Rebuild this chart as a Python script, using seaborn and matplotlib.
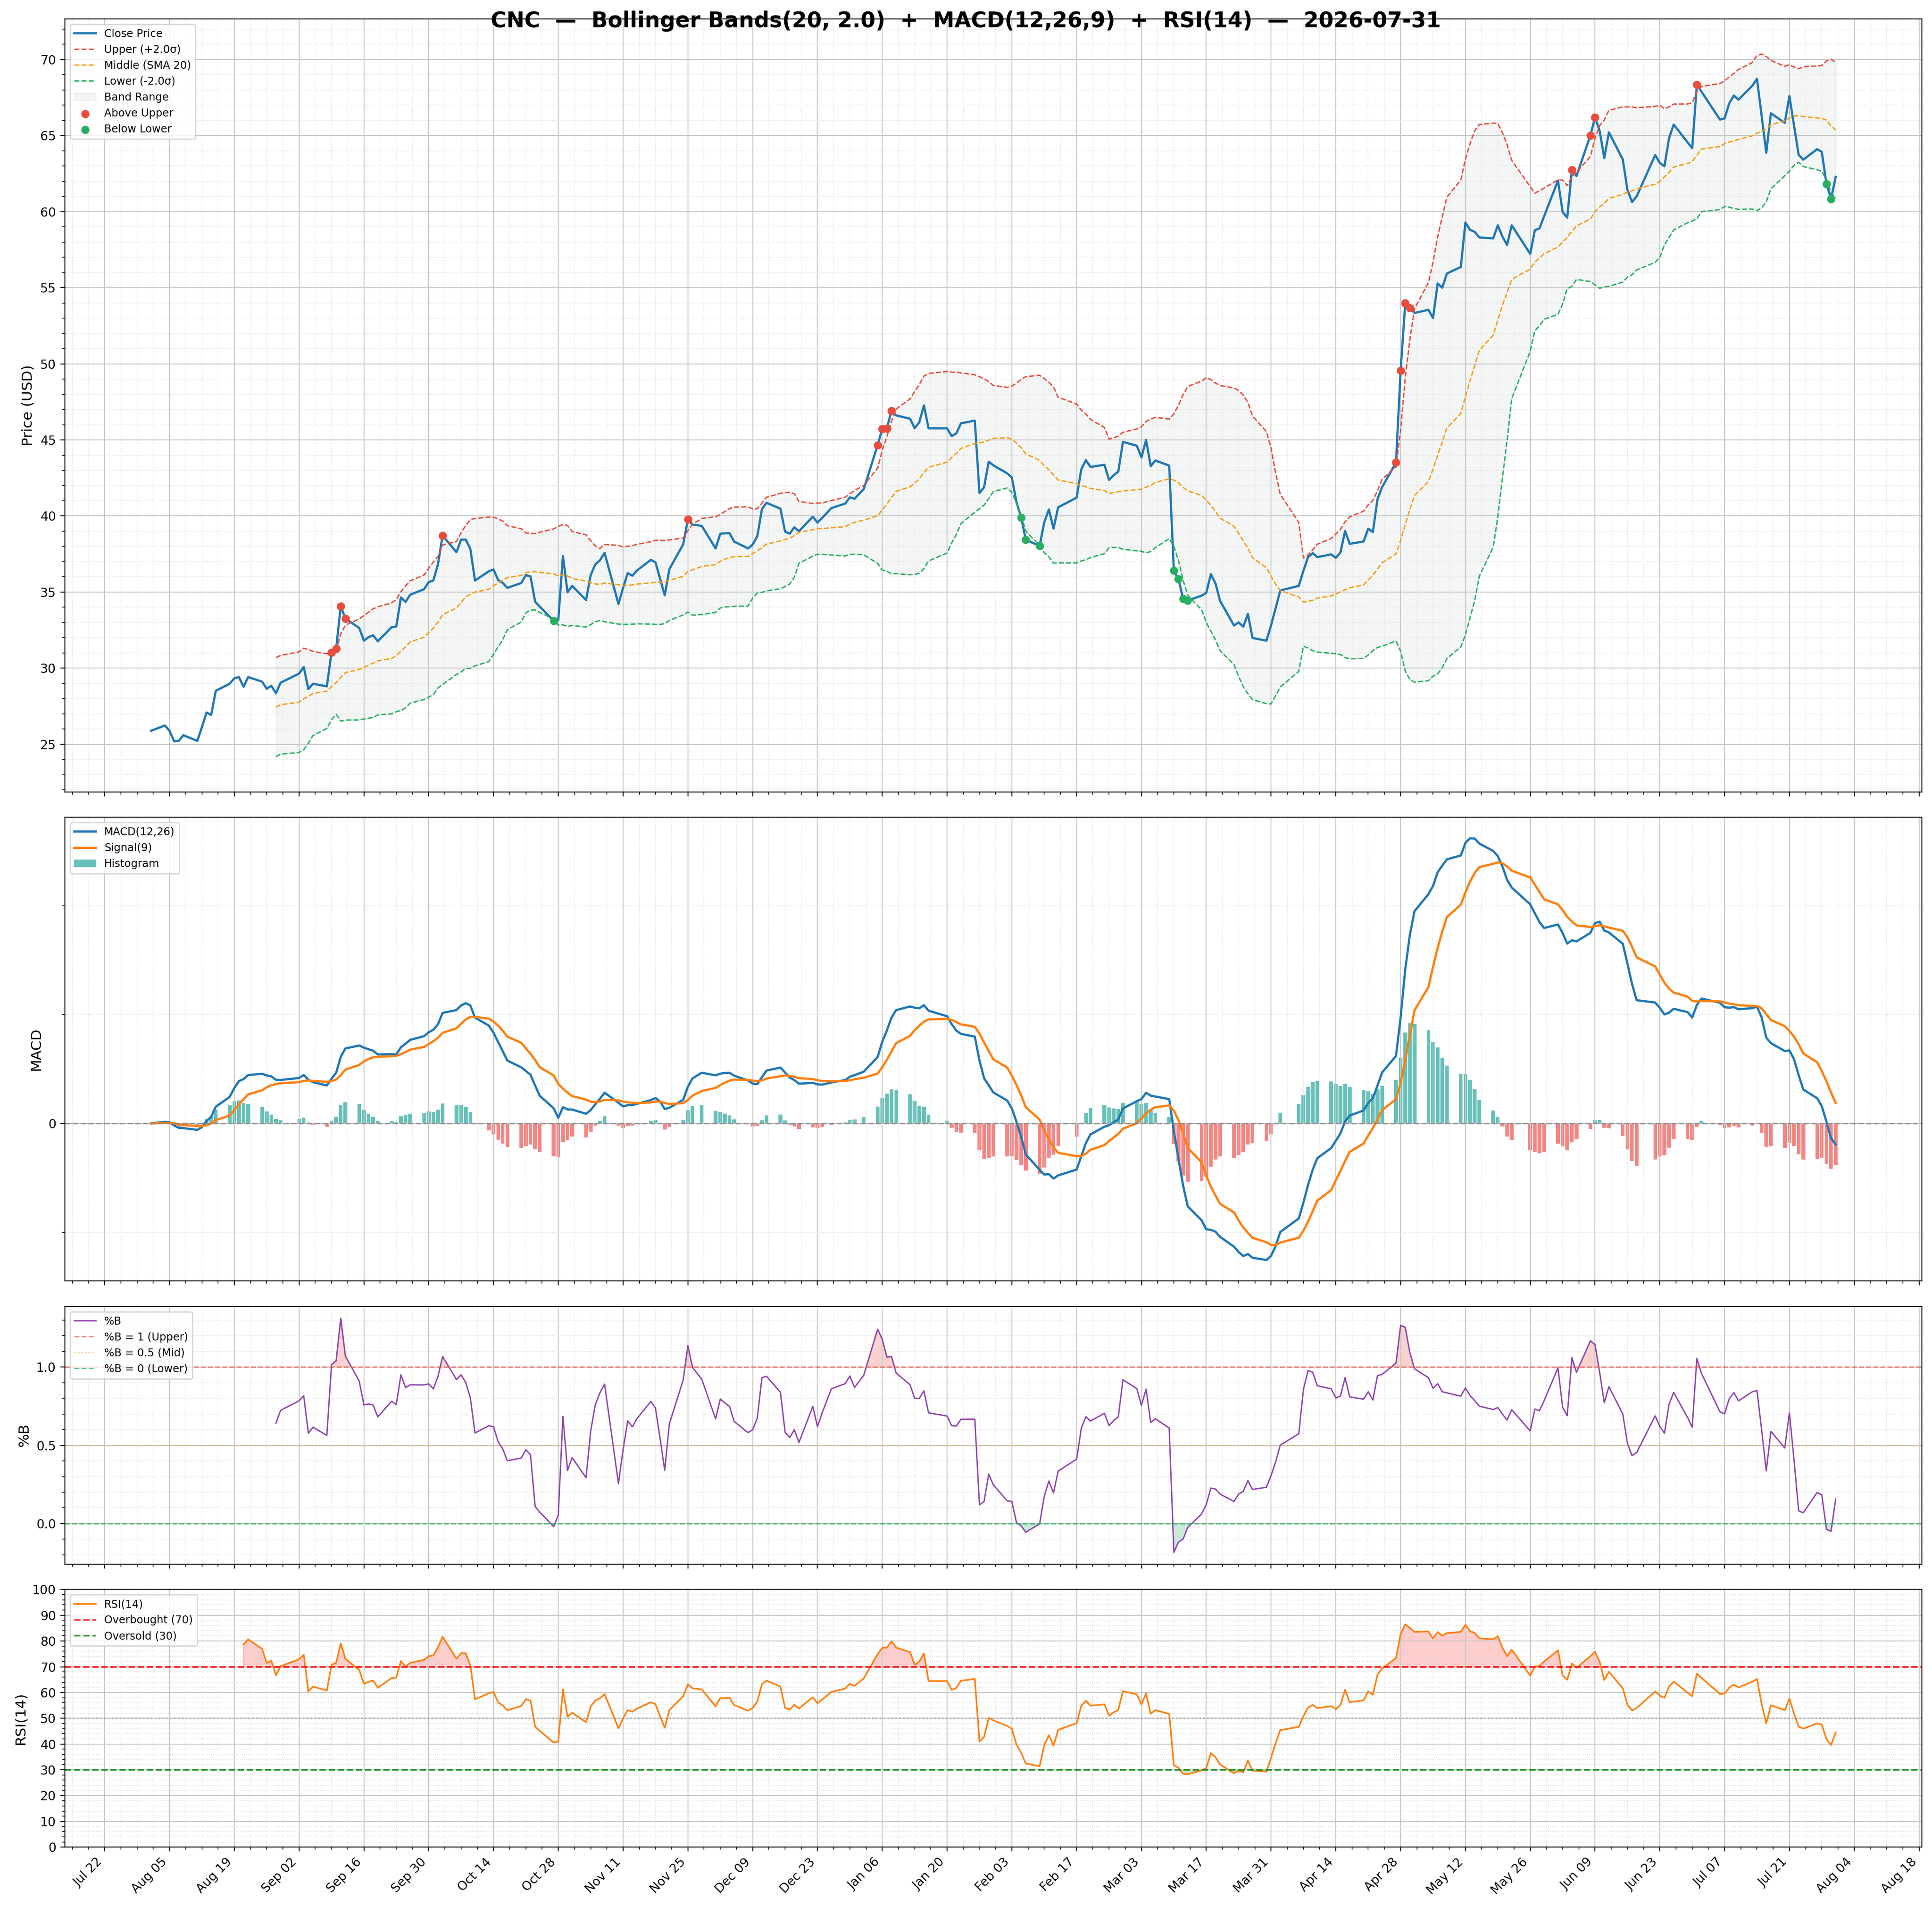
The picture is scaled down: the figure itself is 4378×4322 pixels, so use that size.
import numpy as np
import pandas as pd
import seaborn as sns
import matplotlib
matplotlib.use("Agg")
import matplotlib.pyplot as plt
import matplotlib.dates as mdates
from matplotlib.ticker import AutoMinorLocator, MultipleLocator

# chart settings
ticker = "CNC"
as_of = "2026-07-31"
bb_window, bb_k = 20, 2.0
fast, slow, sig = 12, 26, 9
rsi_n = 14

# NYSE holidays inside the window (no bars on these days)
holidays = ["2025-09-01", "2025-11-27", "2025-12-25", "2026-01-01", "2026-01-19",
            "2026-02-16", "2026-04-03", "2026-05-25", "2026-06-19", "2026-07-03"]

# daily closes, one list per month
aug_25 = [25.89, 26.24, 25.89, 25.20, 25.23, 25.60, 25.23, 26.13, 27.09, 26.93, 28.52,
          28.98, 29.34, 29.42, 28.78, 29.42, 29.12, 28.65, 28.85, 28.36, 29.05]
sep_25 = [29.65, 30.09, 28.63, 28.98, 28.81, 31.04, 31.28, 34.07, 33.27, 32.64, 31.81,
          32.04, 32.17, 31.77, 32.70, 32.74, 34.65, 34.36, 34.83, 35.19, 35.66]
oct_25 = [35.76, 36.82, 38.72, 37.62, 38.45, 38.45, 37.84, 35.76, 36.37, 36.49, 35.80,
          35.60, 35.28, 35.60, 36.12, 36.03, 34.37, 34.05, 33.12, 33.17, 37.37, 34.99, 35.41]
nov_25 = [34.48, 36.12, 36.83, 37.09, 37.58, 34.22, 35.28, 36.25, 36.08, 36.42, 37.12,
          36.96, 35.87, 34.79, 36.51, 38.15, 39.78, 39.44, 39.35]
dec_25 = [37.87, 38.84, 38.86, 38.87, 38.32, 37.87, 38.12, 38.67, 40.45, 40.87, 40.48,
          38.97, 38.84, 39.26, 39.00, 39.96, 39.57, 39.87, 40.52, 40.82, 41.23, 41.13]
jan_26 = [41.77, 44.66, 45.73, 45.76, 46.92, 46.61, 46.39, 45.77, 46.16, 47.27, 45.76,
          45.76, 45.25, 45.43, 46.09, 46.27, 41.51, 41.89, 43.57, 43.33]
feb_26 = [42.80, 42.53, 40.91, 39.91, 38.45, 38.03, 39.59, 40.43, 39.17, 40.57, 41.21,
          43.07, 43.67, 43.22, 43.37, 42.37, 42.68, 42.92, 44.87]
mar_26 = [44.62, 43.85, 45.00, 43.28, 43.65, 43.31, 36.41, 35.87, 34.57, 34.45, 34.77,
          34.95, 36.18, 35.57, 34.42, 32.81, 33.01, 32.73, 33.57, 31.99, 31.81, 32.81]
apr_26 = [33.96, 35.11, 35.41, 36.41, 37.30, 37.56, 37.30, 37.48, 37.25, 37.61, 39.02,
          38.17, 38.33, 39.17, 38.95, 41.10, 41.90, 43.51, 49.56, 53.98, 53.66]
may_26 = [53.34, 53.55, 53.01, 55.28, 55.00, 55.93, 56.36, 59.28, 58.80, 58.67, 58.30,
          58.24, 59.10, 58.35, 57.81, 59.10, 57.22, 58.78, 58.89, 59.69]
jun_26 = [62.04, 59.97, 59.60, 62.73, 62.34, 65.00, 66.20, 65.30, 63.52, 65.20, 63.43,
          61.42, 60.63, 61.00, 63.71, 63.20, 62.97, 64.83, 65.72, 64.55, 64.17]
jul_26 = [68.33, 67.88, 66.04, 66.12, 67.11, 67.62, 67.35, 68.27, 68.72, 66.28, 63.86,
          66.46, 65.83, 67.59, 65.67, 63.73, 63.41, 64.10, 63.92, 61.82, 60.84, 62.28]

close_values = (aug_25 + sep_25 + oct_25 + nov_25 + dec_25 + jan_26 + feb_26
                + mar_26 + apr_26 + may_26 + jun_26 + jul_26)
dates = pd.bdate_range("2025-08-01", "2026-07-31").drop(pd.to_datetime(holidays))
close = pd.Series(close_values, index=dates)

# Bollinger bands + %B
mid = close.rolling(bb_window).mean()
sd = close.rolling(bb_window).std()
upper = mid + bb_k * sd
lower = mid - bb_k * sd
pctb = (close - lower) / (upper - lower)

# MACD
ema_f = close.ewm(span=fast, adjust=False).mean()
ema_s = close.ewm(span=slow, adjust=False).mean()
macd = ema_f - ema_s
signal = macd.ewm(span=sig, adjust=False).mean()
hist = macd - signal

# RSI (Wilder)
delta = close.diff()
gain = delta.clip(lower=0)
loss = -delta.clip(upper=0)
avg_g = gain.ewm(alpha=1 / rsi_n, adjust=False, min_periods=rsi_n).mean()
avg_l = loss.ewm(alpha=1 / rsi_n, adjust=False, min_periods=rsi_n).mean()
rsi = 100 - 100 / (1 + avg_g / avg_l)

plt.rcParams["xtick.labelsize"] = 10.2
plt.rcParams["ytick.labelsize"] = 10.2

fig, axes = plt.subplots(4, 1, figsize=(21.89, 21.61), dpi=200, sharex=True,
                         gridspec_kw=dict(height_ratios=[3, 1.8, 1, 1], hspace=0.0579,
                                          left=0.0335, right=0.9948, top=0.9901, bottom=0.0314))
ax_p, ax_m, ax_b, ax_r = axes
leg_fs = 8.7
lab_fs = 11.7

# --- price + bands
sns.lineplot(x=dates, y=close.values, ax=ax_p, color="#1f77b4", linewidth=1.8, label="Close Price")
sns.lineplot(x=dates, y=upper.values, ax=ax_p, color="#e74c3c", linewidth=1.1, linestyle="--",
             label=f"Upper (+{bb_k}σ)")
sns.lineplot(x=dates, y=mid.values, ax=ax_p, color="#f39c12", linewidth=1.1, linestyle="--",
             label=f"Middle (SMA {bb_window})")
sns.lineplot(x=dates, y=lower.values, ax=ax_p, color="#27ae60", linewidth=1.1, linestyle="--",
             label=f"Lower (-{bb_k}σ)")
ax_p.fill_between(dates, lower, upper, color="#95a5a6", alpha=0.1, label="Band Range")
above = close > upper
below = close < lower
sns.scatterplot(x=dates[above], y=close[above].values, ax=ax_p, color="#e74c3c", s=45,
                linewidth=0, zorder=5, label="Above Upper")
sns.scatterplot(x=dates[below], y=close[below].values, ax=ax_p, color="#27ae60", s=45,
                linewidth=0, zorder=5, label="Below Lower")
ax_p.set_ylabel("Price (USD)", fontsize=lab_fs)
ax_p.yaxis.set_major_locator(MultipleLocator(5))
ax_p.yaxis.set_minor_locator(AutoMinorLocator(5))
ax_p.legend(loc="upper left", fontsize=leg_fs)

# --- MACD
bar_colors = np.where(hist.values >= 0, "#26a69a", "#ef5350")
ax_m.bar(dates, hist.values, width=0.8, color=bar_colors, alpha=0.7, label="Histogram")
sns.lineplot(x=dates, y=macd.values, ax=ax_m, color="#1f77b4", linewidth=1.8, label=f"MACD({fast},{slow})")
sns.lineplot(x=dates, y=signal.values, ax=ax_m, color="#ff7f0e", linewidth=1.8, label=f"Signal({sig})")
ax_m.axhline(0, color="gray", linestyle="--", linewidth=1.2, alpha=0.8)
ax_m.set_ylabel("MACD", fontsize=lab_fs)
ax_m.set_yticks([0])
ax_m.yaxis.set_minor_locator(MultipleLocator(2))
h, l = ax_m.get_legend_handles_labels()
order = [l.index(f"MACD({fast},{slow})"), l.index(f"Signal({sig})"), l.index("Histogram")]
ax_m.legend([h[i] for i in order], [l[i] for i in order], loc="upper left", fontsize=leg_fs)

# --- %B
sns.lineplot(x=dates, y=pctb.values, ax=ax_b, color="#8e44ad", linewidth=1.1, label="%B")
ax_b.axhline(1, color="#e74c3c", linestyle="--", linewidth=1.1, alpha=0.7, label="%B = 1 (Upper)")
ax_b.axhline(0.5, color="#f39c12", linestyle=":", linewidth=1.1, alpha=0.6, label="%B = 0.5 (Mid)")
ax_b.axhline(0, color="#27ae60", linestyle="--", linewidth=1.1, alpha=0.7, label="%B = 0 (Lower)")
ax_b.fill_between(dates, pctb, 1, where=pctb > 1, interpolate=True, color="#e74c3c", alpha=0.25)
ax_b.fill_between(dates, pctb, 0, where=pctb < 0, interpolate=True, color="#27ae60", alpha=0.25)
ax_b.set_ylabel("%B", fontsize=lab_fs)
ax_b.yaxis.set_major_locator(MultipleLocator(0.5))
ax_b.yaxis.set_minor_locator(AutoMinorLocator(5))
ax_b.legend(loc="upper left", fontsize=leg_fs)

# --- RSI
sns.lineplot(x=dates, y=rsi.values, ax=ax_r, color="#ff7f0e", linewidth=1.3, label=f"RSI({rsi_n})")
ax_r.axhline(70, color="red", linestyle="--", linewidth=1.4, alpha=0.8, label="Overbought (70)")
ax_r.axhline(30, color="green", linestyle="--", linewidth=1.4, alpha=0.8, label="Oversold (30)")
ax_r.axhline(50, color="gray", linestyle=":", linewidth=1.2, alpha=0.6)
ax_r.fill_between(dates, rsi, 70, where=rsi >= 70, interpolate=True, color="red", alpha=0.2)
ax_r.fill_between(dates, rsi, 30, where=rsi <= 30, interpolate=True, color="green", alpha=0.2)
ax_r.set_ylim(0, 100)
ax_r.set_yticks(range(0, 101, 10))
ax_r.yaxis.set_minor_locator(AutoMinorLocator(5))
ax_r.set_ylabel(f"RSI({rsi_n})", fontsize=lab_fs)
ax_r.legend(loc="upper left", fontsize=leg_fs)

for ax in axes:
    ax.grid(True, which="major", color="#c8c8c8", linewidth=0.8)
    ax.grid(True, which="minor", color="#dddddd", linestyle=":", linewidth=0.6)
    ax.set_xlabel("")

ax_r.set_xticks(pd.date_range("2025-07-22", "2026-08-18", freq="14D"))
ax_r.xaxis.set_major_formatter(mdates.DateFormatter("%b %d"))
ax_r.xaxis.set_minor_locator(AutoMinorLocator(4))
for lab in ax_r.get_xticklabels():
    lab.set_rotation(45)
    lab.set_ha("right")

fig.suptitle(f"{ticker}  —  Bollinger Bands({bb_window}, {bb_k})  +  MACD({fast},{slow},{sig})"
             f"  +  RSI({rsi_n})  —  {as_of}", fontsize=17.5, fontweight="bold", y=0.9857, va="baseline")

fig.savefig("out.png", dpi=200)
